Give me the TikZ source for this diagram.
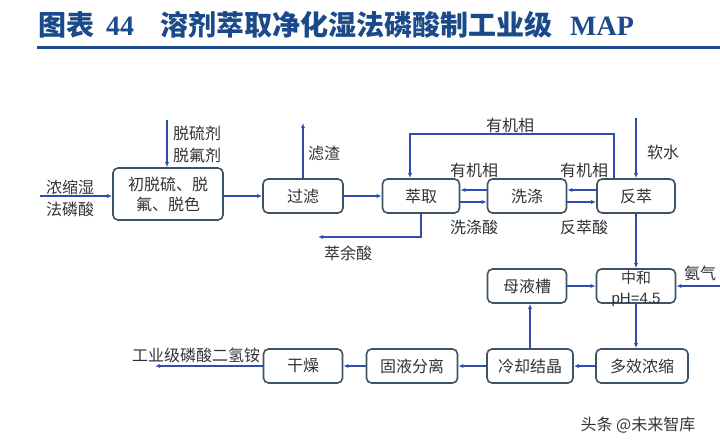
\documentclass[tikz,border=0pt]{standalone}
\usepackage{fontspec}
\setmainfont{Liberation Serif}
\newfontfamily\cjk{Noto Sans CJK SC}
\usetikzlibrary{arrows.meta}
\definecolor{boxc}{HTML}{3E5466}
\definecolor{arr}{HTML}{2F4DAE}
\definecolor{txt}{HTML}{333333}
\definecolor{ttl}{HTML}{1B4A8A}
\begin{document}
\begin{tikzpicture}[x=1pt,y=-1pt,
  box/.style={draw=boxc, line width=1.6pt, rounded corners=5pt, minimum height=34pt,
    font=\cjk\fontsize{16}{20}\selectfont, text=txt, inner sep=0pt, align=center},
  flow/.style={draw=arr, line width=1.1pt, -{Latex[length=5pt,width=4pt]}},
  lbl/.style={font=\cjk\fontsize{16}{22}\selectfont, text=txt, inner sep=0pt, align=left},
  ttlf/.style={font=\cjk\bfseries\fontsize{28}{30}\selectfont, text=ttl, inner sep=0pt, anchor=west}]
\useasboundingbox (0,0) rectangle (720,447);
\fill[white] (0,0) rectangle (720,447);
% title
\node[ttlf] (t1) at (38,25) {图表};
\node[ttlf, font=\bfseries\fontsize{28}{30}\selectfont] (t2) at (106,26) {44};
\node[ttlf] (t3) at (160,25) {溶剂萃取净化湿法磷酸制工业级};
\node[ttlf, font=\bfseries\fontsize{28}{30}\selectfont] (t4) at (570,26) {MAP};
\coordinate (r1) at (37,47);
\coordinate (r2) at (720,47);
\draw[ttl, line width=3pt] (r1) -- (r2);
% boxes
\node[box, minimum width=110pt, minimum height=52pt] (pre) at (168,194) {初脱硫、脱\\氟、脱色};
\node[box, minimum width=80pt] (filt) at (303,196) {过滤};
\node[box, minimum width=77pt] (ext) at (421,196) {萃取};
\node[box, minimum width=79pt] (wash) at (527,196) {洗涤};
\node[box, minimum width=78pt] (strip) at (636,196) {反萃};
\node[box, minimum width=79pt] (mother) at (527,286) {母液槽};
\node[box, minimum width=79pt] (neut) at (636,286) {};
\node[lbl, align=center, font=\fontsize{15}{20}\selectfont] (neutt) at (636,289) {{\cjk 中和}\\{\sffamily\fontspec{Liberation Sans}pH=4.5}};
\node[box, minimum width=92pt] (evap) at (642,366) {多效浓缩};
\node[box, minimum width=86pt] (cryst) at (530,366) {冷却结晶};
\node[box, minimum width=91pt] (sep) at (412,366) {固液分离};
\node[box, minimum width=79pt] (dry) at (303,366) {干燥};
% labels
\node[lbl] (feed) at (70,198) {浓缩湿\\法磷酸};
\node[lbl] (agent) at (197,144) {脱硫剂\\脱氟剂};
\node[lbl] (slag) at (324,153) {滤渣};
\node[lbl] (raff) at (348,253) {萃余酸};
\node[lbl] (org1) at (474,170) {有机相};
\node[lbl] (wacid) at (474,227) {洗涤酸};
\node[lbl] (org2) at (584,170) {有机相};
\node[lbl] (sacid) at (584,227) {反萃酸};
\node[lbl] (org3) at (510,125) {有机相};
\node[lbl] (water) at (663,152) {软水};
\node[lbl] (nh3) at (700,273) {氨气};
\node[lbl] (prod) at (196,355) {工业级磷酸二氢铵};
\node[font=\cjk\fontsize{16}{18}\selectfont, text=black!80, inner sep=0pt] (wm) at (638,425) {头条 @未来智库};
% coordinates
\coordinate (in0) at (40,196);
\coordinate (ag0) at (167,120);
\coordinate (sl1) at (303,123);
\coordinate (ra1) at (421,237);
\coordinate (ra2) at (318,237);
\coordinate (o1) at (614,134);
\coordinate (o2) at (410,134);
\coordinate (w0) at (636,118);
\coordinate (n0) at (720,286);
\coordinate (p1) at (155,366);
% connectors
\draw[flow] (in0) -- (pre.west |- in0);
\draw[flow] (ag0) -- (ag0 |- pre.north);
\draw[flow] (pre.east |- filt) -- (filt.west);
\draw[flow] (filt.north) -- (sl1);
\draw[flow] (filt.east) -- (ext.west);
\draw[flow] (ext.south) -- (ra1) -- (ra2);
\draw[flow] ([yshift=-6pt]ext.east) -- ([yshift=-6pt]wash.west);
\draw[flow] ([yshift=6pt]wash.west) -- ([yshift=6pt]ext.east);
\draw[flow] ([yshift=-6pt]wash.east) -- ([yshift=-6pt]strip.west);
\draw[flow] ([yshift=6pt]strip.west) -- ([yshift=6pt]wash.east);
\draw[flow] (o1 |- strip.north) -- (o1) -- (o2) -- (o2 |- ext.north);
\draw[flow] (w0) -- (strip.north);
\draw[flow] (strip.south) -- (neut.north);
\draw[flow] (n0) -- (neut.east);
\draw[flow] (mother.east) -- (neut.west);
\draw[flow] (neut.south) -- (neut.south |- evap.north);
\draw[flow] (evap.west) -- (cryst.east);
\draw[flow] (cryst.north) -- (cryst.north |- mother.south);
\draw[flow] (cryst.west) -- (sep.east);
\draw[flow] (sep.west) -- (dry.east);
\draw[flow] (dry.west) -- (p1);
\end{tikzpicture}
\end{document}
